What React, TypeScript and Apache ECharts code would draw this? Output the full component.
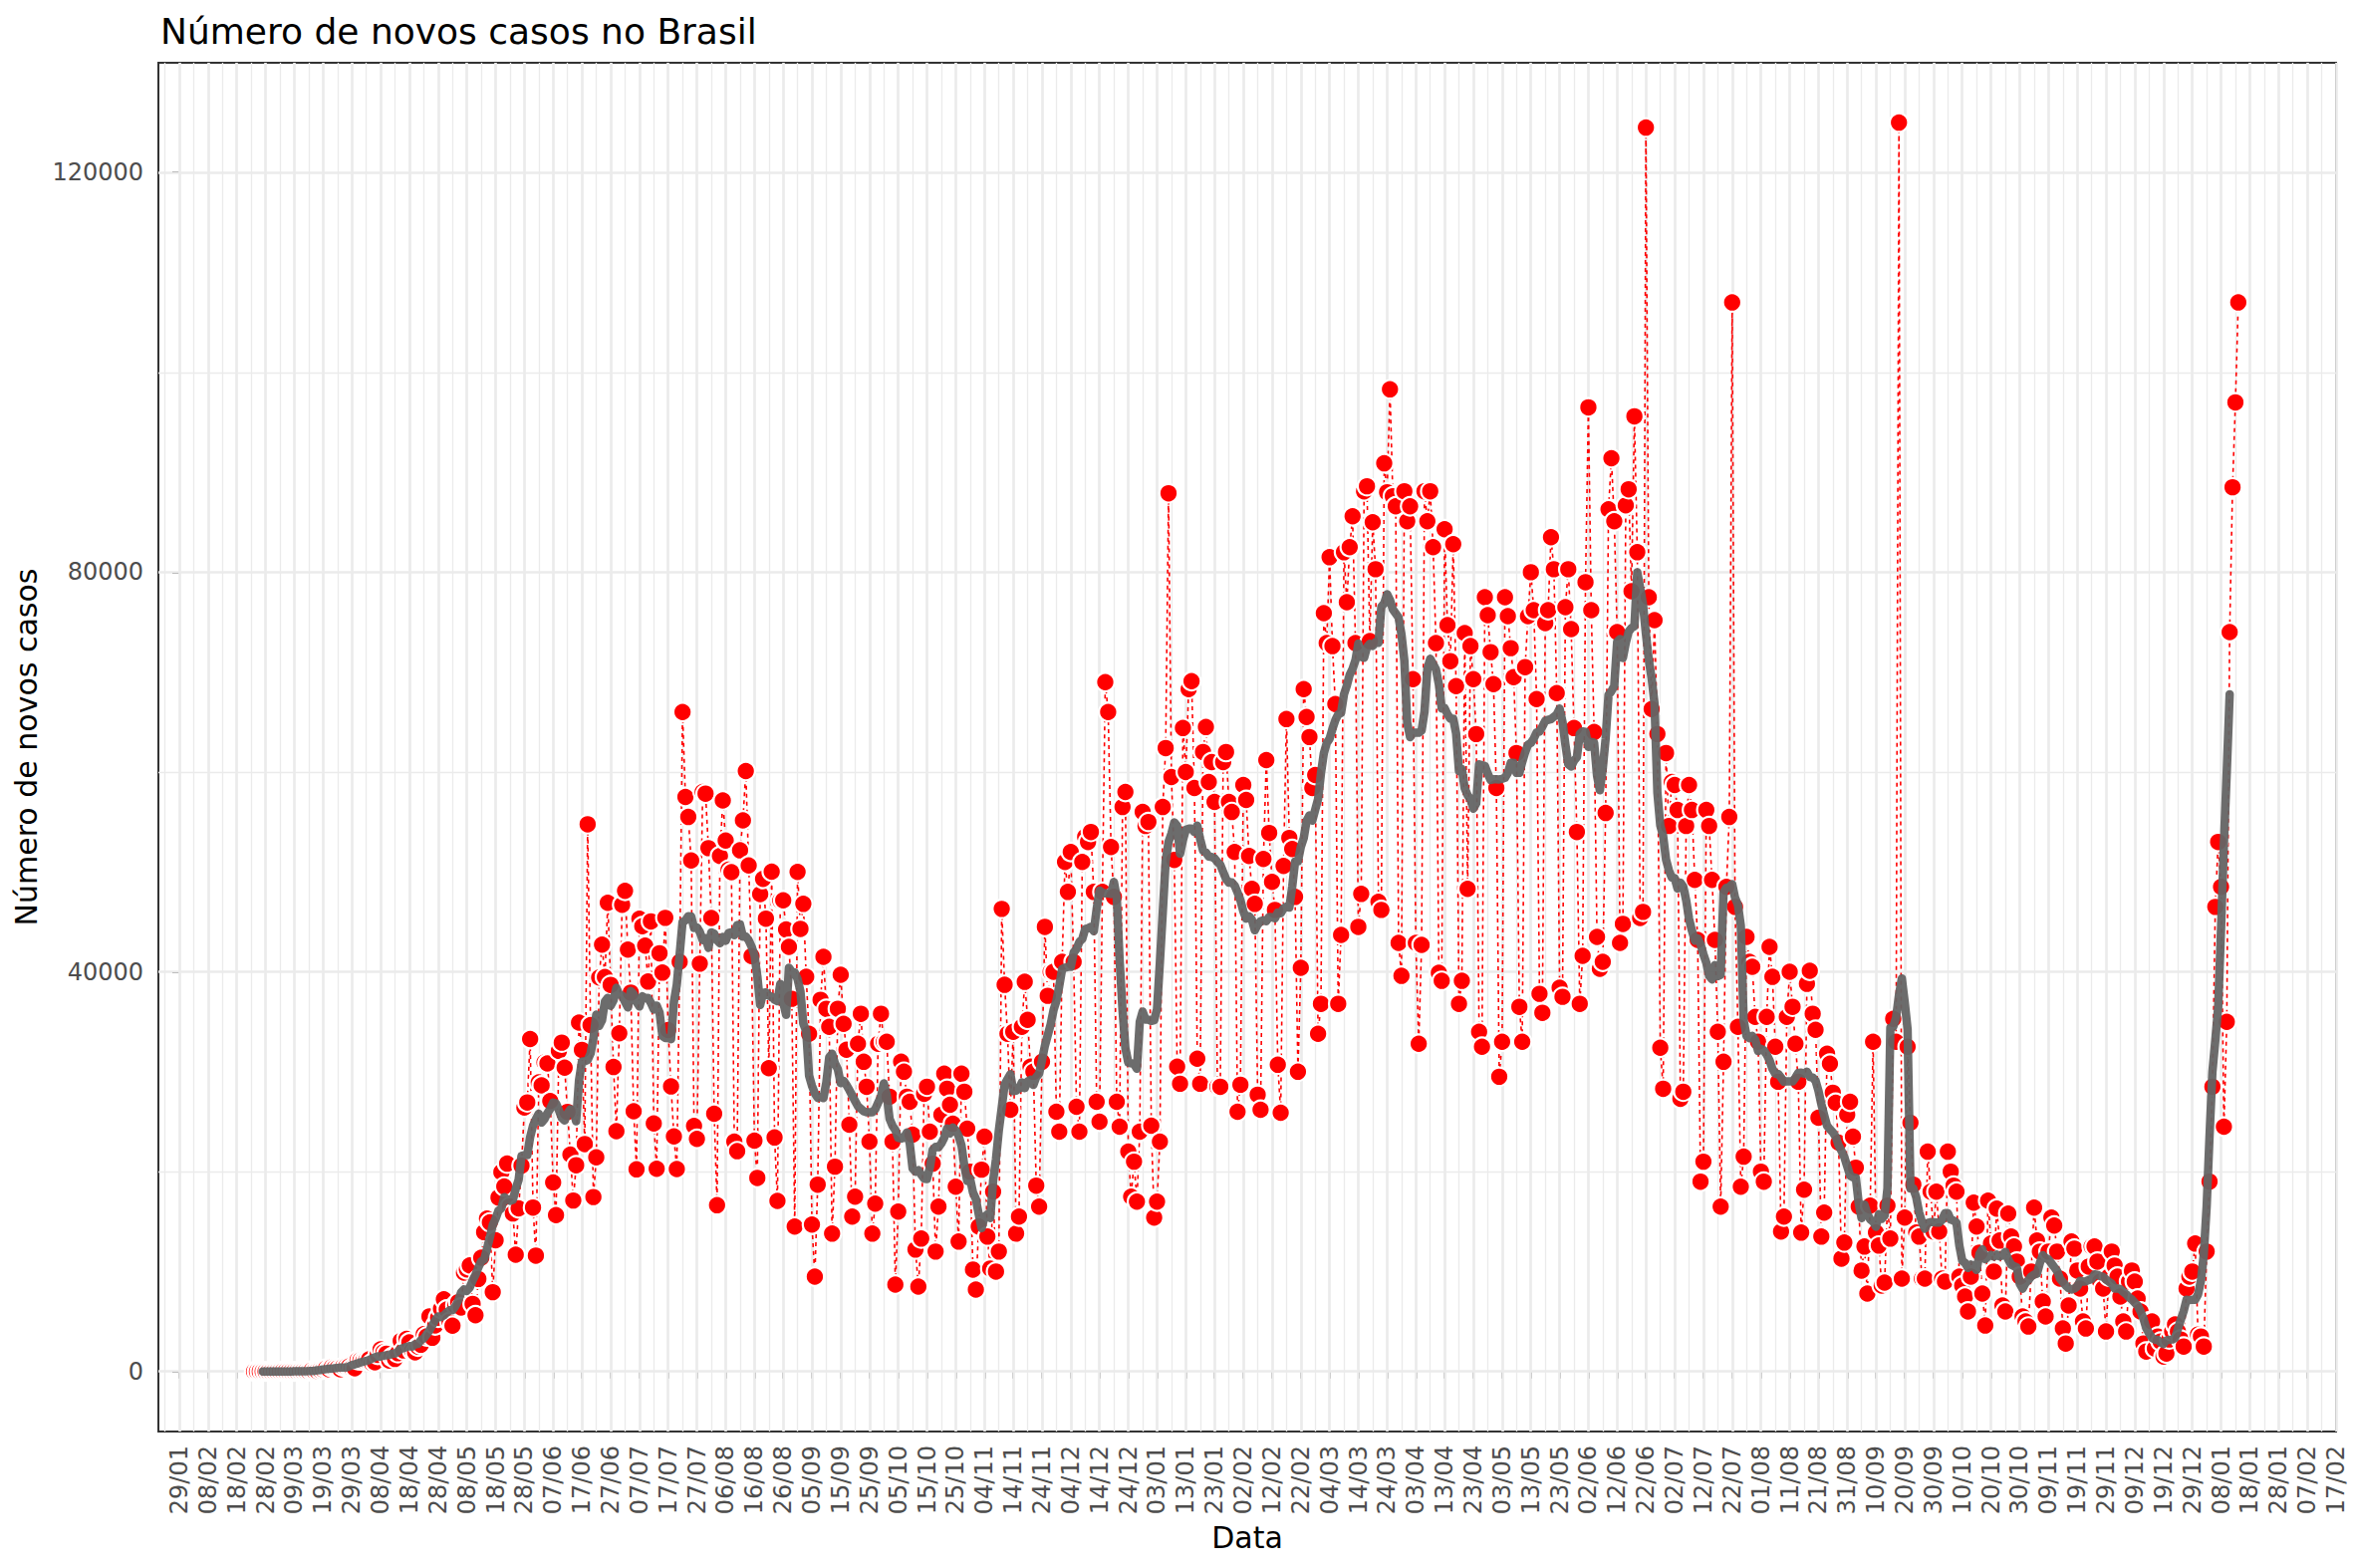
import React, { useEffect, useRef } from "react";
import * as echarts from "echarts";

// day index = days since 29/01/2020 ; first value is 24/02/2020
const START_DAY = 26;

const cases2020Feb = [0, 0, 1, 0, 0, 1];
const cases2020Mar = [0, 0, 0, 1, 5, 5, 6, 6, 5, 6, 18, 25, 21, 23, 79, 34, 57, 137, 193, 283, 224, 418, 345, 310, 232, 482, 502, 487, 352, 323, 1138];
const cases2020Apr = [1119, 1074, 1146, 1222, 852, 926, 1661, 2210, 1930, 1781, 1089, 1442, 1261, 1832, 3058, 2105, 3257, 2917, 2055, 1927, 2498, 2678, 3735, 3503, 5514, 3379, 4613, 5385, 6276, 7218];
const cases2020May = [6209, 4970, 4588, 6633, 6935, 6412, 9888, 10222, 10611, 6760, 5632, 9258, 11385, 13944, 15305, 14919, 7938, 13140, 17408, 19951, 18508, 20803, 16508, 15813, 11687, 16324, 20599, 26417, 26928, 33274, 16409];
const cases2020Jun = [11598, 28936, 28633, 30925, 30830, 27075, 18912, 15654, 32091, 32913, 30412, 25982, 21704, 17110, 20647, 34918, 32188, 22765, 54771, 34666, 17459, 21432, 39436, 42725, 39483, 46907, 38693, 30476, 24052, 33846];
const cases2020Jul = [46712, 48105, 42223, 37923, 26051, 20229, 45305, 44571, 42619, 39023, 45048, 24831, 20286, 41857, 39924, 45403, 34177, 28532, 23529, 20257, 41008, 66000, 57500, 55500, 51147, 24578, 23284, 40816, 58000, 57837, 52383];
const cases2020Aug = [45392, 25800, 16641, 51603, 57152, 53139, 50230, 49970, 23010, 22048, 52160, 55155, 60091, 50644, 41576, 23101, 19373, 47784, 49298, 45323, 30355, 50032, 23421, 17078, 47134, 47161, 44235, 42500, 37300, 14500, 50000];
const cases2020Sep = [44300, 46800, 39500, 33800, 14700, 9500, 18700, 37200, 41500, 36300, 34500, 13800, 20500, 36300, 39700, 34800, 32200, 24700, 15500, 17500, 32800, 35800, 31000, 28500, 23000, 13800, 16800, 32800, 35800, 33000];
const cases2020Oct = [33000, 27500, 23000, 8700, 16000, 31000, 30000, 27500, 27000, 23700, 12200, 8500, 13300, 27800, 28500, 24000, 20800, 12000, 16500, 25700, 29800, 28300, 26700, 24800, 18500, 13000, 29800, 28000, 24300, 20000, 10200];
const cases2020Nov = [8200, 14500, 20200, 23500, 13500, 10300, 18000, 10000, 12000, 46300, 38700, 33800, 26200, 34000, 13800, 15500, 34500, 39000, 35200, 30500, 30000, 18600, 16500, 31000, 44500, 37600, 40000, 40000, 26000, 24000];
const cases2020Dec = [41000, 51000, 48000, 52000, 41000, 26500, 24000, 51000, 53500, 53000, 54000, 48000, 27000, 25000, 48000, 69000, 66000, 52500, 47500, 27000, 24500, 56500, 58000, 22000, 17500, 21000, 17000, 24000, 56000, 54600, 55000];
const cases2021Jan = [24600, 15400, 17000, 23000, 56500, 62400, 87900, 59500, 51200, 30500, 28800, 64400, 60000, 68300, 69100, 58400, 31300, 28800, 62000, 64500, 59000, 61000, 57000, 28500, 28500, 61000, 62000, 57000, 56000, 52000, 26000];
const cases2021Feb = [28700, 58700, 57200, 51600, 48300, 46800, 27700, 26200, 51300, 61200, 53900, 49000, 46200, 30700, 25900, 50600, 65300, 53400, 52300, 47500, 30000, 40400, 68300, 65500, 63500, 58400, 59700, 33800];
const cases2021Mar = [36800, 75900, 72900, 81500, 72600, 66800, 36800, 43700, 82000, 77000, 82500, 85600, 72900, 44500, 47800, 88100, 88600, 73100, 85000, 80300, 47000, 46200, 90900, 88000, 98300, 87600, 86600, 42900, 39600, 88100, 85100];
const cases2021Apr = [86600, 69300, 42900, 32800, 42700, 88100, 85100, 88100, 82500, 72900, 39900, 39100, 84300, 74700, 71100, 82800, 68600, 36800, 39100, 73900, 48300, 72600, 69300, 63800, 34000, 32500, 77500, 75700, 72000, 68800];
const cases2021May = [58400, 29500, 33000, 77500, 75600, 72400, 69500, 61900, 36500, 33000, 70500, 75600, 80000, 76200, 67300, 37800, 35900, 74900, 76200, 83500, 80300, 67900, 38400, 37500, 76500, 80300, 74300, 64400, 54000, 36800, 41600];
const cases2021Jun = [79000, 96500, 76200, 64000, 43500, 40300, 41000, 55900, 86300, 91400, 85100, 74000, 42900, 44800, 86700, 88300, 78100, 95600, 82000, 45400, 46000, 124500, 77500, 66300, 75200, 63800, 32400, 28300, 61900, 54600];
const cases2021Jul = [59000, 58700, 56200, 27300, 28000, 54600, 58700, 56200, 49200, 43200, 19000, 21000, 56200, 54600, 49200, 43200, 34000, 16500, 31000, 48500, 55500, 107000, 46500, 34500, 18500, 21500, 43500, 41000, 40500, 35500, 33000];
const cases2021Aug = [20000, 19000, 35500, 42500, 39500, 32500, 29000, 14000, 15500, 35500, 40000, 36500, 32800, 29000, 13900, 18200, 38800, 40100, 35800, 34200, 25400, 13500, 15900, 31800, 30800, 27900, 26900, 22900, 11300, 12900, 25700];
const cases2021Sep = [27000, 23500, 20400, 16500, 10100, 12500, 7800, 16600, 33000, 13900, 12600, 8600, 8900, 16600, 13300, 35300, 33000, 125000, 9300, 15400, 32500, 24900, 18700, 13900, 13500, 9300, 9300, 22000, 18000, 14000];
const cases2021Oct = [18000, 14000, 9300, 9000, 22000, 20000, 18600, 18000, 9500, 8600, 7500, 6000, 9500, 16900, 14500, 11900, 7800, 4600, 17100, 12800, 10000, 16300, 13100, 6600, 6000, 15800, 13500, 12500, 11000, 9500, 5500];
const cases2021Nov = [5000, 4500, 10000, 16400, 13100, 12000, 7000, 5500, 12000, 15400, 14600, 12000, 9300, 4300, 2800, 6600, 13000, 12300, 10100, 8300, 5000, 4300, 10500, 12500, 12500, 11000, 9000, 8300, 4000, 9500];
const cases2021Dec = [12000, 10600, 9500, 7500, 5000, 4000, 9000, 10100, 9000, 7300, 6000, 2800, 2000, 5000, 5000, 2300, 3500, 3000, 1500, 1800, 3200, 4000, 4700, 4000, 3200, 2500, 8300, 9500, 10000, 12800, 3700];
const cases2022Jan = [3500, 2500, 12000, 19000, 28500, 46500, 53000, 48500, 24500, 35000, 74000, 88500, 97000, 107000];

const xTickDays = Array.from({ length: 76 }, (_, i) => i * 10);
const xMinorDays = Array.from({ length: 76 }, (_, i) => i * 10 - 5);
const yTickValues = [0, 40000, 80000, 120000];
const yMinorValues = [20000, 60000, 100000];

const TITLE = "Número de novos casos no Brasil";
const X_NAME = "Data";
const Y_NAME = "Número de novos casos";

const ORIGIN = Date.UTC(2020, 0, 29);
const pad = (n: number) => (n < 10 ? "0" + n : "" + n);
function dayLabel(d: number): string {
  const dt = new Date(ORIGIN + Math.round(d) * 86400000);
  return pad(dt.getUTCDate()) + "/" + pad(dt.getUTCMonth() + 1);
}

const allCases: number[] = [
  ...cases2020Feb, ...cases2020Mar, ...cases2020Apr, ...cases2020May, ...cases2020Jun,
  ...cases2020Jul, ...cases2020Aug, ...cases2020Sep, ...cases2020Oct, ...cases2020Nov,
  ...cases2020Dec, ...cases2021Jan, ...cases2021Feb, ...cases2021Mar, ...cases2021Apr,
  ...cases2021May, ...cases2021Jun, ...cases2021Jul, ...cases2021Aug, ...cases2021Sep,
  ...cases2021Oct, ...cases2021Nov, ...cases2021Dec, ...cases2022Jan,
];

export default function App() {
  const ref = useRef<HTMLDivElement>(null);
  useEffect(() => {
    document.body.style.margin = "0";
    document.body.style.overflow = "hidden";
    const chart = echarts.init(ref.current as HTMLDivElement, undefined, { renderer: "svg" });
    const points = allCases.map((v, i) => [START_DAY + i, v]);
    // centred 7-day moving average of the daily values
    const ma: number[][] = [];
    for (let i = 3; i < allCases.length - 3; i++) {
      let s = 0;
      for (let k = i - 3; k <= i + 3; k++) s += allCases[k];
      ma.push([START_DAY + i, s / 7]);
    }
    const gridColor = "#EBEBEB";
    const gridLines: any[] = [];
    xMinorDays.forEach((v) => gridLines.push({ xAxis: v, lineStyle: { width: 1.3, color: gridColor, type: "solid" } }));
    yMinorValues.forEach((v) => gridLines.push({ yAxis: v, lineStyle: { width: 1.3, color: gridColor, type: "solid" } }));
    xTickDays.forEach((v) => gridLines.push({ xAxis: v, lineStyle: { width: 2.7, color: gridColor, type: "solid" } }));
    yTickValues.forEach((v) => gridLines.push({ yAxis: v, lineStyle: { width: 2.7, color: gridColor, type: "solid" } }));

    const font = "DejaVu Sans";
    chart.setOption({
      animation: false,
      backgroundColor: "#FFFFFF",
      title: {
        text: TITLE,
        left: 156,
        top: 8,
        textStyle: { fontFamily: font, fontSize: 36, fontWeight: "normal", color: "#000000" },
      },
      grid: {
        left: 159, top: 63, width: 2186, height: 1374,
        show: true, borderColor: "#333333", borderWidth: 2, backgroundColor: "#FFFFFF",
      },
      xAxis: {
        type: "value",
        min: -7.27,
        max: 750,
        name: X_NAME,
        nameLocation: "middle",
        nameGap: 86,
        nameTextStyle: { fontFamily: font, fontSize: 30, color: "#000000" },
        axisLine: { show: false },
        splitLine: { show: false },
        axisTick: { show: true, customValues: xTickDays, length: 7, lineStyle: { color: "#333333", width: 2 } },
        axisLabel: {
          customValues: xTickDays,
          rotate: 90,
          margin: 14,
          fontFamily: font,
          fontSize: 24,
          color: "#4D4D4D",
          formatter: (v: number) => dayLabel(v),
          hideOverlap: false,
        },
      },
      yAxis: {
        type: "value",
        min: -6010,
        max: 130990,
        name: Y_NAME,
        nameLocation: "middle",
        nameRotate: 90,
        nameGap: 110,
        nameTextStyle: { fontFamily: font, fontSize: 30, color: "#000000" },
        axisLine: { show: false },
        splitLine: { show: false },
        axisTick: { show: true, customValues: yTickValues, length: 7, lineStyle: { color: "#333333", width: 2 } },
        axisLabel: {
          customValues: yTickValues,
          margin: 15,
          fontFamily: font,
          fontSize: 24,
          color: "#4D4D4D",
          formatter: (v: number) => String(v),
        },
      },
      series: [
        {
          type: "scatter",
          name: "grid",
          data: [[0, 0]],
          symbolSize: 0,
          silent: true,
          z: 1,
          markLine: {
            silent: true,
            symbol: ["none", "none"],
            label: { show: false },
            animation: false,
            z: 1,
            data: gridLines,
          },
        },
        {
          type: "line",
          name: "daily-line",
          data: points,
          showSymbol: false,
          symbol: "none",
          silent: true,
          z: 2,
          lineStyle: { color: "#FF0000", width: 1.6, type: [4, 4] },
        },
        {
          type: "scatter",
          name: "daily",
          data: points,
          symbol: "circle",
          symbolSize: 18.5,
          silent: true,
          z: 3,
          itemStyle: { color: "#FF0000", borderColor: "#FFFFFF", borderWidth: 2.2, opacity: 1 },
        },
        {
          type: "line",
          name: "media-movel",
          data: ma,
          showSymbol: false,
          symbol: "none",
          silent: true,
          z: 4,
          lineStyle: { color: "rgba(100,100,100,0.95)", width: 8.5, cap: "round", join: "round" },
        },
      ],
    });
    return () => chart.dispose();
  }, []);
  return <div ref={ref} style={{ position: "absolute", left: 0, top: 0, width: 2362, height: 1574 }} />;
}
